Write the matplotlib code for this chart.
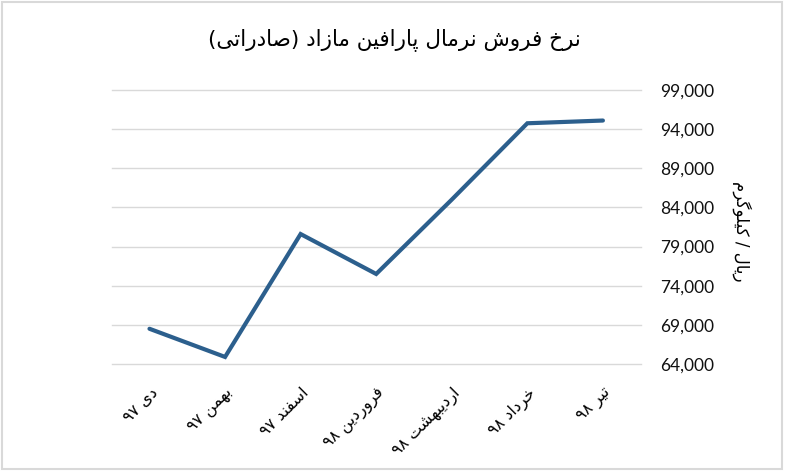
import re
import matplotlib
matplotlib.use("Agg")
import matplotlib.pyplot as plt
from matplotlib.patches import Rectangle
from matplotlib.ticker import FuncFormatter

# ---------------- data ----------------
title = "نرخ فروش نرمال پارافین مازاد (صادراتی)"
y_label = "ریال / کیلوگرم"
months = ["دی ۹۷", "بهمن ۹۷", "اسفند ۹۷", "فروردین ۹۸", "اردیبهشت ۹۸", "خرداد ۹۸", "تیر ۹۸"]
prices = [68500, 64900, 80600, 75500, 85000, 94750, 95100]
y_ticks = [64000, 69000, 74000, 79000, 84000, 89000, 94000, 99000]

# ------------- minimal Arabic/Persian shaping -------------
FORMS = {
    'ا': ('\uFE8D', '\uFE8E', None, None),
    'ب': ('\uFE8F', '\uFE90', '\uFE91', '\uFE92'),
    'ت': ('\uFE95', '\uFE96', '\uFE97', '\uFE98'),
    'خ': ('\uFEA5', '\uFEA6', '\uFEA7', '\uFEA8'),
    'د': ('\uFEA9', '\uFEAA', None, None),
    'ر': ('\uFEAD', '\uFEAE', None, None),
    'ز': ('\uFEAF', '\uFEB0', None, None),
    'س': ('\uFEB1', '\uFEB2', '\uFEB3', '\uFEB4'),
    'ش': ('\uFEB5', '\uFEB6', '\uFEB7', '\uFEB8'),
    'ص': ('\uFEB9', '\uFEBA', '\uFEBB', '\uFEBC'),
    'ف': ('\uFED1', '\uFED2', '\uFED3', '\uFED4'),
    'ل': ('\uFEDD', '\uFEDE', '\uFEDF', '\uFEE0'),
    'م': ('\uFEE1', '\uFEE2', '\uFEE3', '\uFEE4'),
    'ن': ('\uFEE5', '\uFEE6', '\uFEE7', '\uFEE8'),
    'ه': ('\uFEE9', '\uFEEA', '\uFEEB', '\uFEEC'),
    'و': ('\uFEED', '\uFEEE', None, None),
    'ی': ('\uFBFC', '\uFBFD', '\uFBFE', '\uFBFF'),
    'پ': ('\uFB56', '\uFB57', '\uFB58', '\uFB59'),
    'ک': ('\uFB8E', '\uFB8F', '\uFB90', '\uFB91'),
    'گ': ('\uFB92', '\uFB93', '\uFB94', '\uFB95'),
}
RIGHT_ONLY = set('ادذرزژو')
MIRROR = {'(': ')', ')': '('}


def shape(s):
    out = []
    for i, c in enumerate(s):
        if c not in FORMS:
            out.append(c)
            continue
        prev = s[i - 1] if i > 0 else None
        nxt = s[i + 1] if i + 1 < len(s) else None
        jp = prev in FORMS and prev not in RIGHT_ONLY
        jn = c not in RIGHT_ONLY and nxt in FORMS
        iso, fin, ini, med = FORMS[c]
        if jp and jn:
            out.append(med)
        elif jp:
            out.append(fin)
        elif jn:
            out.append(ini)
        else:
            out.append(iso)
    return ''.join(out)


def rtl(s):
    shaped = shape(s)
    tokens = re.findall(r'[0-9\u06F0-\u06F9]+|.', shaped)
    tokens = [MIRROR.get(t, t) for t in reversed(tokens)]
    return ''.join(tokens)


# ---------------- figure ----------------
fig = plt.figure(figsize=(7.89, 4.76), dpi=100)
ax = fig.add_axes([111.7 / 789, 1 - 364 / 476, (640.7 - 111.7) / 789, (364 - 90) / 476])

x = list(range(len(months)))
ax.plot(x, prices, color="#2c5f8d", linewidth=3.0, solid_capstyle="round",
        solid_joinstyle="miter", zorder=3)

ax.set_xlim(-0.5, len(months) - 0.5)
ax.set_ylim(y_ticks[0], y_ticks[-1])
ax.set_yticks(y_ticks)
ax.yaxis.set_major_formatter(FuncFormatter(lambda v, p: f"{int(v):,}"))
ax.yaxis.tick_right()
ax.grid(axis="y", color="#d9d9d9", linewidth=1.0, zorder=0)
for gl in ax.get_ygridlines():
    gl.set_clip_on(False)
for sp in ax.spines.values():
    sp.set_visible(False)
ax.tick_params(axis="y", length=0, pad=14, labelsize=12.5)
for lab in ax.get_yticklabels():
    lab.set_fontfamily(["Lato", "DejaVu Sans"])
    lab.set_color("#111111")

ax.set_xticks(x)
ax.set_xticklabels([rtl(m) for m in months], rotation=45, ha="right",
                   va="top", rotation_mode="anchor",
                   fontfamily=["DejaVu Sans"], fontsize=11.5)
ax.tick_params(axis="x", length=0, pad=15)

fig.text(742 / 789, 1 - 231 / 476, rtl(y_label), rotation=-90, ha="center",
         va="center", fontsize=12, fontfamily=["DejaVu Sans"])

fig.text(394 / 789, 1 - 40 / 476, rtl(title), ha="center", va="center",
         fontsize=15.5, fontfamily=["DejaVu Sans"])

fig.patches.append(Rectangle((2 / 789, 1 - 469 / 476), 780 / 789, 467 / 476,
                             transform=fig.transFigure, fill=False,
                             edgecolor="#d9d9d9", linewidth=1.5))

fig.savefig("out.png", dpi=100)
